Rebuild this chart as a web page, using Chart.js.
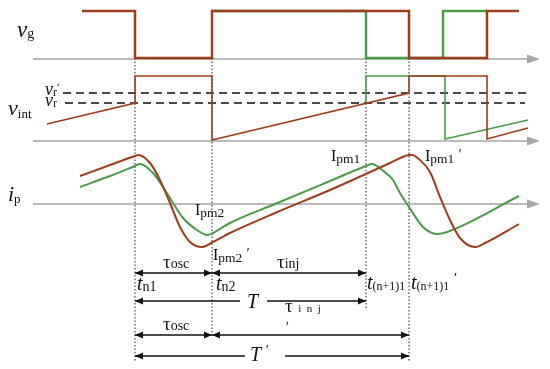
<!DOCTYPE html>
<html lang="en">
<head>
    <meta charset="UTF-8">
    <title>Injection timing diagram</title>
    <script src="https://cdn.jsdelivr.net/npm/chart.js"></script>
    <style>
        html, body { margin: 0; padding: 0; background: #fff; }
        canvas { display: block; }
    </style>
</head>
<body>
    <canvas id="diagram" width="550" height="369"></canvas>

    <script>
        // time axis runs 0..550, level axis 0..369 (drawn downwards)
        var RED = "#9c3e1d";
        var GREEN = "#4d9a4b";
        var GREY = "#a6a6a6";

        // gate voltage vg
        var vgRedT = [82, 135, 135, 212, 212, 409, 409, 487, 487, 519];
        var vgRedV = [11, 11, 58, 58, 11, 11, 58, 58, 11, 11];
        var vgGreenT = [212, 366, 366, 443, 443, 487];
        var vgGreenV = [11, 11, 58, 58, 11, 11];

        // integrator voltage vint
        var vintRedT = [47, 135, 135, 212, 212, 409, 409, 487, 487, 528];
        var vintRedV = [124, 103, 76, 76, 140, 93, 76, 76, 139, 128];
        var vintGreenT = [366, 366, 445, 445, 528];
        var vintGreenV = [103, 76, 76, 139, 120];

        // thresholds vr' and vr
        var vrPrimeT = [63, 530];
        var vrPrimeV = [93, 93];
        var vrT = [65, 525];
        var vrV = [103, 103];

        // primary current ip
        var ipRedT = [80, 110, 135, 138, 150, 160, 170, 180, 190, 202, 213, 230, 275, 330, 390, 405, 409, 412, 420, 430, 440, 450, 460, 475, 485, 519];
        var ipRedV = [176, 165, 156, 155, 163, 180, 203, 227, 242, 247, 242, 233, 213, 190, 163, 156, 155, 155, 160, 172, 197, 220, 238, 247, 243, 224];
        var ipGreenT = [80, 110, 135, 140, 153, 163, 173, 183, 197, 207, 213, 230, 275, 330, 366, 372, 382, 393, 400, 409, 423, 437, 447, 519];
        var ipGreenV = [187, 176, 166, 164, 173, 187, 203, 218, 230, 235, 233, 223, 204, 181, 166, 164, 170, 180, 193, 207, 227, 234, 232, 196];

        // base lines of the three traces
        var axisLevels = [59, 141, 204];
        var axisStart = 33, axisEnd = 528, axisTip = 540;

        // event instants and how far down their markers run
        var eventT = [135, 212, 366, 409];
        var eventTop = [58, 58, 58, 58];
        var eventBottom = [362, 334, 309, 362];

        // interval arrows: from, to, level, gap in the shaft
        var spanFrom = [135, 212, 135, 135, 212, 135];
        var spanTo = [212, 366, 366, 212, 409, 409];
        var spanLevel = [273, 273, 301, 335, 335, 356];
        var spanGapFrom = [null, null, 240, null, null, 245];
        var spanGapTo = [null, null, 267, null, null, 285];

        function pts(ts, vs) {
            return ts.map(function (t, i) { return { x: t, y: vs[i] }; });
        }

        function line(data, color, width, dash) {
            return {
                data: data,
                borderColor: color,
                borderWidth: width,
                borderDash: dash || [],
                pointRadius: 0,
                fill: false,
                tension: 0
            };
        }

        // listed bottom layer first; reversed below because Chart.js paints dataset 0 last
        var datasets = [];

        axisLevels.forEach(function (lv) {
            datasets.push(line(pts([axisStart, axisEnd], [lv, lv]), GREY, 1.5));
        });

        eventT.forEach(function (t, i) {
            datasets.push(line(pts([t, t], [eventTop[i], eventBottom[i]]), "#222", 1, [1.5, 2]));
        });

        datasets.push(line(pts(vrPrimeT, vrPrimeV), "#111", 1.5, [8, 5]));
        datasets.push(line(pts(vrT, vrV), "#111", 1.5, [8, 5]));

        datasets.push(line(pts(vgGreenT, vgGreenV), GREEN, 2.5));
        datasets.push(line(pts(vgRedT, vgRedV), RED, 2.5));
        datasets.push(line(pts(vintGreenT, vintGreenV), GREEN, 1.6));
        datasets.push(line(pts(vintRedT, vintRedV), RED, 1.6));

        var ipG = line(pts(ipGreenT, ipGreenV), GREEN, 2);
        ipG.cubicInterpolationMode = "monotone";
        datasets.push(ipG);
        var ipR = line(pts(ipRedT, ipRedV), RED, 2);
        ipR.cubicInterpolationMode = "monotone";
        datasets.push(ipR);

        spanFrom.forEach(function (a, i) {
            var b = spanTo[i], lv = spanLevel[i];
            if (spanGapFrom[i] === null) {
                datasets.push(line(pts([a, b], [lv, lv]), "#111", 1.3));
            } else {
                datasets.push(line(pts([a, spanGapFrom[i]], [lv, lv]), "#111", 1.3));
                datasets.push(line(pts([spanGapTo[i], b], [lv, lv]), "#111", 1.3));
            }
        });

        datasets.reverse();

        // text labels: pieces are [text, size, italic, baseline shift]
        var SERIF = "'Liberation Serif', 'DejaVu Serif', serif";
        var labels = [
            { x: 17, y: 37, parts: [["v", 23, true, 0], ["g", 14, false, 1]] },
            { x: 45, y: 95, parts: [["v", 18, true, 0], ["r", 12, false, 1], ["\u2032", 11, false, -4]] },
            { x: 45, y: 106, parts: [["v", 18, true, 0], ["r", 12, false, 1]] },
            { x: 8, y: 115, parts: [["v", 22, true, 0], ["int", 13, false, 3]] },
            { x: 8, y: 201, parts: [["i", 22, true, 0], ["p", 13, false, 2]] },
            { x: 195, y: 215, parts: [["I", 16, false, 0], ["pm2", 13.5, false, 2]] },
            { x: 213, y: 260, parts: [["I", 16, false, 0], ["pm2", 13.5, false, 2], [" \u2032", 14, true, -2]] },
            { x: 331, y: 161, parts: [["I", 16, false, 0], ["pm1", 13.5, false, 2]] },
            { x: 425, y: 161, parts: [["I", 16, false, 0], ["pm1", 13.5, false, 2], [" \u2032", 14, true, -2]] },
            { x: 163, y: 268, parts: [["\u03c4", 19, false, 0], ["osc", 14, false, 0]] },
            { x: 277, y: 268, parts: [["\u03c4", 19, false, 0], ["inj", 14, false, 0]] },
            { x: 137, y: 290, parts: [["t", 20, true, 0], ["n1", 14, false, 1]] },
            { x: 216, y: 290, parts: [["t", 20, true, 0], ["n2", 14, false, 1]] },
            { x: 367, y: 289, parts: [["t", 20, true, 0], ["(n+1)1", 12, false, 1]] },
            { x: 411, y: 289, parts: [["t", 20, true, 0], ["(n+1)1", 12, false, 1], [" \u2032", 15, true, -6]] },
            { x: 247, y: 308, parts: [["T", 20, true, 0]] },
            { x: 285, y: 312, parts: [["\u03c4", 19, false, 0], ["  i  n  j", 11, false, 0]] },
            { x: 163, y: 330, parts: [["\u03c4", 19, false, 0], ["osc", 14, false, 0]] },
            { x: 285, y: 332, parts: [["\u2032", 14, true, 0]] },
            { x: 250, y: 361, parts: [["T", 20, true, 0], [" \u2032", 15, true, -6]] }
        ];

        function arrowHead(ctx, px, py, dir, len, half, color) {
            ctx.fillStyle = color;
            ctx.beginPath();
            ctx.moveTo(px, py);
            ctx.lineTo(px - dir * len, py - half);
            ctx.lineTo(px - dir * len, py + half);
            ctx.closePath();
            ctx.fill();
        }

        var decorations = {
            id: "decorations",
            afterDatasetsDraw: function (chart) {
                var ctx = chart.ctx;
                var sx = chart.scales.x, sy = chart.scales.y;
                ctx.save();

                axisLevels.forEach(function (lv) {
                    arrowHead(ctx, sx.getPixelForValue(axisTip), sy.getPixelForValue(lv), 1, 13, 4.5, GREY);
                });

                spanFrom.forEach(function (a, i) {
                    var y = sy.getPixelForValue(spanLevel[i]);
                    arrowHead(ctx, sx.getPixelForValue(a), y, -1, 8, 3.5, "#111");
                    arrowHead(ctx, sx.getPixelForValue(spanTo[i]), y, 1, 8, 3.5, "#111");
                });

                ctx.fillStyle = "#111";
                ctx.textBaseline = "alphabetic";
                labels.forEach(function (lb) {
                    var x = sx.getPixelForValue(lb.x);
                    var y = sy.getPixelForValue(lb.y);
                    lb.parts.forEach(function (p) {
                        ctx.font = (p[2] ? "italic " : "") + p[1] + "px " + SERIF;
                        ctx.fillText(p[0], x, y + p[3]);
                        x += ctx.measureText(p[0]).width;
                    });
                });
                ctx.restore();
            }
        };

        new Chart(document.getElementById("diagram"), {
            type: "line",
            data: { datasets: datasets },
            options: {
                responsive: false,
                animation: false,
                layout: { padding: 0 },
                plugins: { legend: { display: false }, tooltip: { enabled: false } },
                scales: {
                    x: { type: "linear", min: 0, max: 550, display: false },
                    y: { type: "linear", min: 0, max: 369, reverse: true, display: false }
                }
            },
            plugins: [decorations]
        });
    </script>
</body>
</html>
